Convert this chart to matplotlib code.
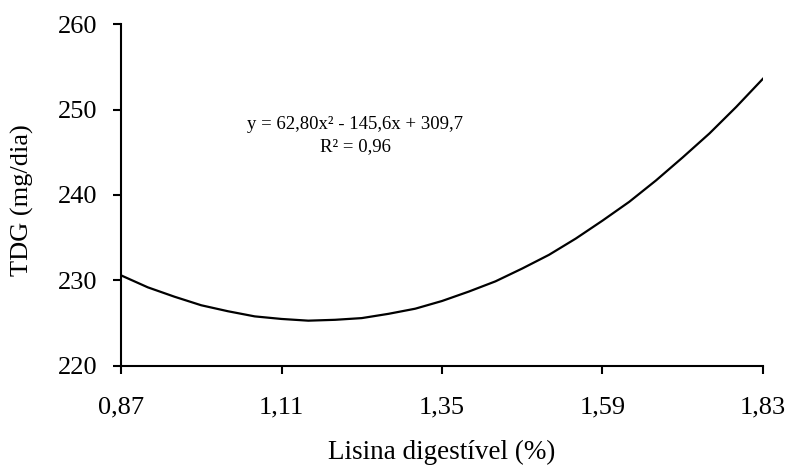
import matplotlib
matplotlib.use('Agg')
import matplotlib.pyplot as plt

# curve values (lisina % vs TDG mg/dia)
lisina = [0.87, 0.91, 0.95, 0.99, 1.03, 1.07, 1.11, 1.15, 1.19, 1.23, 1.27, 1.31, 1.35,
          1.39, 1.43, 1.47, 1.51, 1.55, 1.59, 1.63, 1.67, 1.71, 1.75, 1.79, 1.83]
tdg = [230.6, 229.2, 228.1, 227.1, 226.4, 225.8, 225.5, 225.3, 225.4, 225.6, 226.1, 226.7, 227.6,
       228.7, 229.9, 231.4, 233.0, 234.9, 237.0, 239.2, 241.7, 244.4, 247.2, 250.3, 253.6]

x_ticks = [0.87, 1.11, 1.35, 1.59, 1.83]
x_labels = ['0,87', '1,11', '1,35', '1,59', '1,83']
y_ticks = [220, 230, 240, 250, 260]

plt.rcParams['font.family'] = ['Liberation Serif', 'DejaVu Serif']

fig = plt.figure(figsize=(7.89, 4.68), dpi=100)
ax = fig.add_axes([0.1534, 0.218, 0.8136, 0.7307])

ax.plot(lisina, tdg, color='black', linewidth=1.6)

ax.set_xlim(0.87, 1.83)
ax.set_ylim(220, 260)
ax.set_xticks(x_ticks)
ax.set_xticklabels(x_labels)
ax.set_yticks(y_ticks)

for s in ['top', 'right']:
    ax.spines[s].set_visible(False)
for s in ['left', 'bottom']:
    ax.spines[s].set_linewidth(1.5)
ax.tick_params(direction='out', length=6, width=1.5, labelsize=19, pad=11)
ax.tick_params(axis='x', pad=16)

ax.set_xlabel('Lisina digestível (%)', fontsize=19.5)
ax.xaxis.set_label_coords(0.5, -0.215)
ax.set_ylabel('TDG (mg/dia)', fontsize=19)
ax.yaxis.set_label_coords(-0.135, 0.485)

ax.text(1.22, 248.3, 'y = 62,80x² - 145,6x + 309,7', fontsize=13.5, ha='center', va='center')
ax.text(1.22, 245.7, 'R² = 0,96', fontsize=13.5, ha='center', va='center')

plt.savefig('out.png', dpi=100)
plt.close()
